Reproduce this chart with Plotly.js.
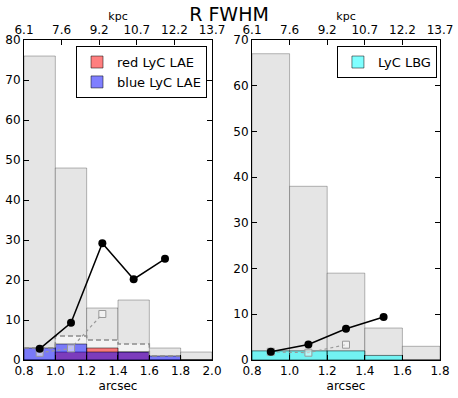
<!DOCTYPE html>
<html>
<head>
<meta charset="utf-8">
<script src="https://cdn.plot.ly/plotly-3.0.1.min.js"></script>
<style>
  html, body { margin: 0; padding: 0; background: #fff; }
  #chart { width: 458px; height: 398px; }
</style>
</head>
<body>
<div id="chart"></div>
<script>
    // bins (arcsec centres, width 0.2)
    var lae_bins = [0.9, 1.1, 1.3, 1.5, 1.7, 1.9];
    var lbg_bins = [0.9, 1.1, 1.3, 1.5, 1.7];
    var bin_width = 0.2;

    // LAE panel
    var lae_all = [76, 48, 13, 15, 3, 2];
    var lae_cand = [3, 6, 5, 4, 1];
    var lae_red = [0, 2, 3, 2, 0, 0];
    var lae_blue = [3, 4, 2, 2, 1, 0];
    var lae_frac_x = [0.9, 1.1, 1.3, 1.5, 1.7];
    var lae_frac = [2.8, 9.3, 29.2, 20.2, 25.3];
    var lae_frac2_x = [0.9, 1.1, 1.3];
    var lae_frac2 = [1.8, 2.9, 11.5];

    // LBG panel
    var lbg_all = [67, 38, 19, 7, 3];
    var lbg_lyc = [2, 2, 2, 1, 0];
    var lbg_frac_x = [0.9, 1.1, 1.3, 1.5];
    var lbg_frac = [1.8, 3.4, 6.85, 9.4];
    var lbg_frac2_x = [0.9, 1.1, 1.3];
    var lbg_frac2 = [1.8, 1.6, 3.35];

    // top axis labels
    var kpc_labels = ['6.1', '7.6', '9.2', '10.7', '12.2', '13.7'];
    var kpc_pos = [0, 1, 2, 3, 4, 5];

    // step outline for the dashed histogram
    var step_x = lae_cand.map(function (v, i) { return lae_bins[i] - bin_width / 2; });
    step_x.push(lae_bins[lae_cand.length - 1] + bin_width / 2);
    var step_y = lae_cand.slice();
    step_y.push(lae_cand[lae_cand.length - 1]);

    var font = 'DejaVu Sans, sans-serif';

    function bars(x, y, color, line, xa, ya, name, legend) {
        return {
            x: x, y: y, width: bin_width, type: 'bar',
            xaxis: xa, yaxis: ya, name: name || '',
            showlegend: !!name, legend: legend || 'legend',
            marker: {color: color, line: {color: line, width: 1}},
            hoverinfo: 'none',
        };
    }

    var data = [
        bars(lae_bins, lae_all, '#e5e5e5', 'rgba(0,0,0,0.28)', 'x', 'y'),
        bars(lae_bins.slice(0, lae_cand.length), lae_cand, 'rgba(255,255,255,0.55)', 'rgba(0,0,0,0)', 'x', 'y'),
        {
            x: step_x, y: step_y, xaxis: 'x', yaxis: 'y', mode: 'lines',
            line: {shape: 'hv', dash: '5px,3px', color: '#8c8c8c', width: 1.5},
            showlegend: false, hoverinfo: 'none',
        },
        bars(lae_bins, lae_red, 'rgba(255,0,0,0.5)', 'rgba(0,0,0,0.5)', 'x', 'y', 'red LyC LAE', 'legend'),
        bars(lae_bins, lae_blue, 'rgba(0,0,255,0.5)', 'rgba(0,0,0,0.5)', 'x', 'y', 'blue LyC LAE', 'legend'),
        {
            x: lae_frac2_x, y: lae_frac2, xaxis: 'x', yaxis: 'y', mode: 'lines+markers',
            line: {dash: 'dot', color: '#999999', width: 1.2},
            marker: {symbol: 'square', size: 7, color: 'rgba(255,255,255,0.5)', line: {color: '#999999', width: 1}},
            showlegend: false, hoverinfo: 'none',
        },
        {
            x: lae_frac_x, y: lae_frac, xaxis: 'x', yaxis: 'y', mode: 'lines+markers',
            line: {color: 'black', width: 1.5},
            marker: {size: 8, color: 'black'},
            showlegend: false, hoverinfo: 'none',
        },
        {
            x: kpc_pos, y: kpc_pos.map(function () { return null; }), xaxis: 'x2', yaxis: 'y',
            mode: 'markers', showlegend: false, hoverinfo: 'none',
        },

        bars(lbg_bins, lbg_all, '#e5e5e5', 'rgba(0,0,0,0.28)', 'x3', 'y2'),
        bars(lbg_bins, lbg_lyc, 'rgba(0,255,255,0.5)', 'rgba(0,0,0,0.5)', 'x3', 'y2', 'LyC LBG', 'legend2'),
        {
            x: lbg_frac2_x, y: lbg_frac2, xaxis: 'x3', yaxis: 'y2', mode: 'lines+markers',
            line: {dash: 'dot', color: '#999999', width: 1.2},
            marker: {symbol: 'square', size: 7, color: 'rgba(255,255,255,0.5)', line: {color: '#999999', width: 1}},
            showlegend: false, hoverinfo: 'none',
        },
        {
            x: lbg_frac_x, y: lbg_frac, xaxis: 'x3', yaxis: 'y2', mode: 'lines+markers',
            line: {color: 'black', width: 1.5},
            marker: {size: 8, color: 'black'},
            showlegend: false, hoverinfo: 'none',
        },
        {
            x: kpc_pos, y: kpc_pos.map(function () { return null; }), xaxis: 'x4', yaxis: 'y2',
            mode: 'markers', showlegend: false, hoverinfo: 'none',
        },
    ];

    var tickfont = {family: font, size: 12, color: 'black'};
    var common = {
        showline: true, linecolor: 'black', linewidth: 1,
        ticks: 'inside', ticklen: 5, tickcolor: 'black', tickwidth: 1,
        showgrid: false, zeroline: false, tickfont: tickfont, fixedrange: true,
    };
    function ax(extra) { return Object.assign({}, common, extra); }

    var layout = {
        width: 458, height: 398,
        margin: {l: 0, r: 0, t: 40, b: 38},
        paper_bgcolor: 'white', plot_bgcolor: 'white',
        barmode: 'overlay',
        font: {family: font, color: 'black'},
        title: {text: 'R FWHM', x: 0.5, xanchor: 'center', y: 0.965, yanchor: 'middle', font: {family: font, size: 19}},
        xaxis: ax({
            domain: [0.0524, 0.4629], range: [0.8, 2.0], anchor: 'y',
            tickvals: [0.8, 1.0, 1.2, 1.4, 1.6, 1.8, 2.0], tickformat: '.1f',
            title: {text: 'arcsec', font: {family: font, size: 12}, standoff: 4},
        }),
        xaxis2: ax({
            overlaying: 'x', side: 'top', anchor: 'y', range: [0, 5],
            tickvals: kpc_pos, ticktext: kpc_labels,
            title: {text: 'kpc', font: {family: font, size: 11}, standoff: 0},
        }),
        yaxis: ax({
            domain: [0, 1], range: [0, 80], anchor: 'x', mirror: 'ticks',
            tickvals: [0, 10, 20, 30, 40, 50, 60, 70, 80],
        }),
        xaxis3: ax({
            domain: [0.5502, 0.9607], range: [0.8, 1.8], anchor: 'y2',
            tickvals: [0.8, 1.0, 1.2, 1.4, 1.6, 1.8], tickformat: '.1f',
            title: {text: 'arcsec', font: {family: font, size: 12}, standoff: 4},
        }),
        xaxis4: ax({
            overlaying: 'x3', side: 'top', anchor: 'y2', range: [0, 5],
            tickvals: kpc_pos, ticktext: kpc_labels,
            title: {text: 'kpc', font: {family: font, size: 11}, standoff: 0},
        }),
        yaxis2: ax({
            domain: [0, 1], range: [0, 70], anchor: 'x3', mirror: 'ticks',
            tickvals: [0, 10, 20, 30, 40, 50, 60, 70],
        }),
        legend: {
            x: 0.452, xanchor: 'right', y: 0.981, yanchor: 'top',
            bgcolor: 'white', bordercolor: 'black', borderwidth: 1,
            font: {family: font, size: 13}, traceorder: 'normal',
        },
        legend2: {
            x: 0.954, xanchor: 'right', y: 0.981, yanchor: 'top',
            bgcolor: 'white', bordercolor: 'black', borderwidth: 1,
            font: {family: font, size: 13},
        },
    };

    Plotly.newPlot(document.getElementById('chart'), data, layout, {displayModeBar: false, staticPlot: true});
</script>
</body>
</html>
